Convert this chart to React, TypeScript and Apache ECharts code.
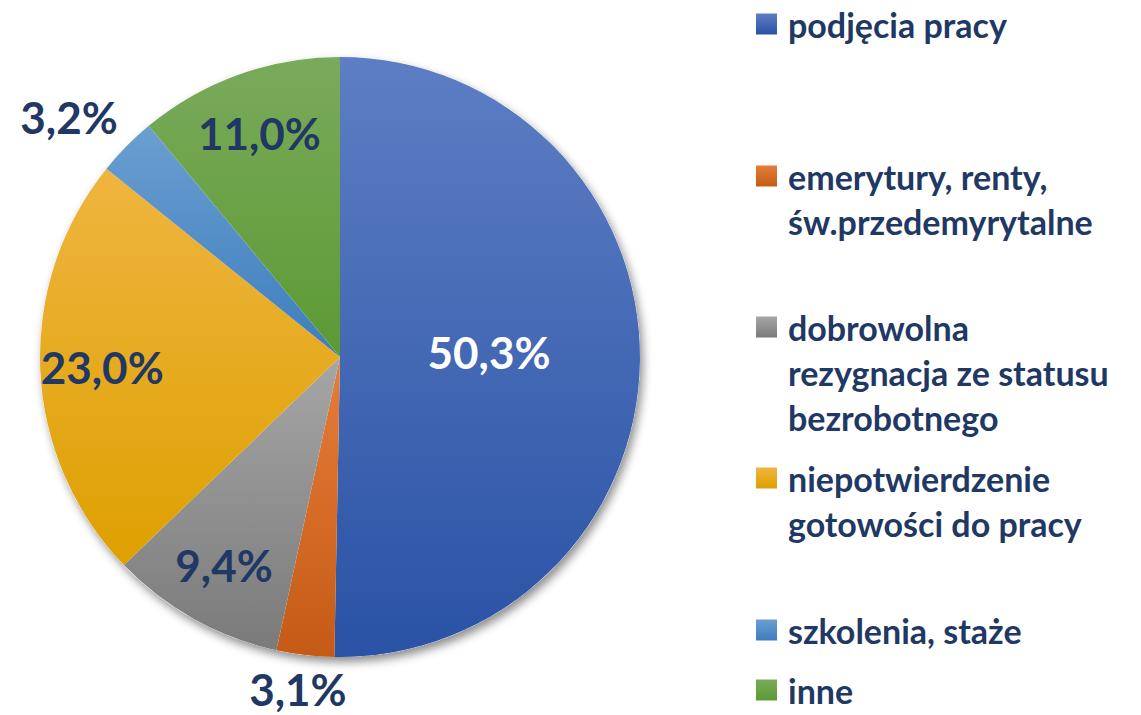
import React, { useEffect, useRef } from 'react';
import * as echarts from 'echarts';

const categories = [
  'podjęcia pracy',
  'emerytury, renty, św.przedemyrytalne',
  'dobrowolna rezygnacja ze statusu bezrobotnego',
  'niepotwierdzenie gotowości do pracy',
  'szkolenia, staże',
  'inne',
];
const legendLines = [
  ['podjęcia pracy'],
  ['emerytury, renty,', 'św.przedemyrytalne'],
  ['dobrowolna', 'rezygnacja ze statusu', 'bezrobotnego'],
  ['niepotwierdzenie', 'gotowości do pracy'],
  ['szkolenia, staże'],
  ['inne'],
];
const values = [50.3, 3.1, 9.4, 23.0, 3.2, 11.0];
// label placement: 'center' = mid-radius, 'ring' = outer ring, 'outside'
const labelModes = ['center', 'outside', 'ring', 'ring', 'outside', 'ring'];

const colorsTop = ['#5d7ec3', '#e57e3b', '#a6a6a6', '#efb540', '#6a9fd1', '#7aaa5b'];
const colorsBottom = ['#2a52a5', '#c45a15', '#7a7a7a', '#dea000', '#3e7dbd', '#5c9a33'];

const NAVY = '#1f3864';
const FONT = 'Lato, "Open Sans", sans-serif';

const legendCenters = [24, 176, 327, 478, 630, 690];
const LH = 45;

const fmt = (v: number) => v.toFixed(1).replace('.', ',') + '%';

export default function App() {
  const ref = useRef<HTMLDivElement>(null);
  useEffect(() => {
    document.body.style.margin = '0';
    if (!ref.current) return;
    const chart = echarts.init(ref.current, undefined, { renderer: 'svg' });

    const grad = (i: number) =>
      new echarts.graphic.LinearGradient(0, 0, 0, 1, [
        { offset: 0, color: colorsTop[i] },
        { offset: 1, color: colorsBottom[i] },
      ]);

    const mainData = categories.map((name, i) => {
      const mode = labelModes[i];
      return {
        name,
        value: values[i],
        itemStyle: { color: grad(i) },
        label:
          mode === 'center'
            ? { show: true, position: 'inside', color: '#ffffff' }
            : mode === 'outside'
            ? { show: true, position: 'outside', color: NAVY }
            : { show: false },
        labelLine: { show: false, length: i === 1 ? 37 : 25, length2: 0 },
      };
    });

    const ringData = categories.map((name, i) => ({
      name,
      value: values[i],
      label: { show: labelModes[i] === 'ring' },
    }));

    const legends = categories.map((name, i) => {
      const n = legendLines[i].length;
      return {
        data: [name],
        left: 756,
        top: legendCenters[i] - ((2 * n - 1) * LH) / 2,
        orient: 'vertical',
        padding: 0,
        itemWidth: 21,
        itemHeight: 21,
        icon: 'rect',
        selectedMode: false,
        formatter: () => {
          const blanks = new Array(n - 1).fill('');
          return [...blanks, ...legendLines[i]].join('\n');
        },
        textStyle: {
          fontFamily: FONT,
          fontWeight: 'bold',
          fontSize: 34,
          color: NAVY,
          lineHeight: LH,
          padding: [0, 0, 0, 6],
        },
      };
    });

    const labelStyle = {
      fontFamily: FONT,
      fontWeight: 'bold',
      fontSize: 44,
      formatter: (p: any) => fmt(p.value),
    };

    chart.setOption({
      animation: false,
      legend: legends,
      series: [
        {
          type: 'pie',
          name: 'shadow',
          center: [340, 357],
          radius: 300,
          silent: true,
          label: { show: false },
          labelLine: { show: false },
          itemStyle: {
            color: '#ffffff',
            shadowBlur: 10,
            shadowOffsetX: 3,
            shadowOffsetY: 5,
            shadowColor: 'rgba(0,0,0,0.45)',
          },
          data: [{ name: '_bg', value: 1 }],
        },
        {
          type: 'pie',
          name: 'main',
          center: [340, 357],
          radius: [0, 300],
          startAngle: 90,
          clockwise: true,
          avoidLabelOverlap: false,
          label: { ...labelStyle },
          emphasis: { disabled: true },
          itemStyle: { borderWidth: 0 },
          labelLayout: (p: any) => {
            if (p.dataIndex === 0) return { dx: -4, dy: -6 };
            if (p.dataIndex === 1) return { align: 'center', dx: 2, dy: -3 };
            if (p.dataIndex === 4) return { dx: 14, dy: -12 };
            return {};
          },
          data: mainData,
        },
        {
          type: 'pie',
          name: 'ringLabels',
          center: [340, 357],
          radius: [170, 300],
          startAngle: 90,
          clockwise: true,
          silent: true,
          avoidLabelOverlap: false,
          itemStyle: { color: 'rgba(0,0,0,0)' },
          emphasis: { disabled: true },
          label: { ...labelStyle, position: 'inside', color: NAVY },
          labelLine: { show: false },
          data: ringData,
        },
      ],
    });
    return () => chart.dispose();
  }, []);
  return <div ref={ref} style={{ width: 1141, height: 715 }} />;
}
